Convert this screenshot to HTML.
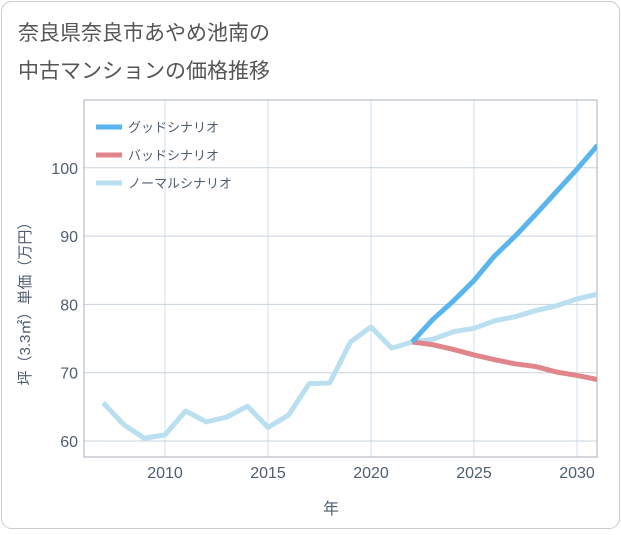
<!DOCTYPE html>
<html><head><meta charset="utf-8"><style>
body{margin:0;background:#fff;font-family:"Liberation Sans","Noto Sans CJK JP",sans-serif;}
#wrap{position:relative;width:621px;height:530px;}
</style></head><body>
<div id="wrap">
<svg id="chart" width="621" height="530" xmlns="http://www.w3.org/2000/svg">
<rect x="1.5" y="1.5" width="618" height="527" rx="10" fill="#fff" stroke="#ccc"/>
<text x="18" y="40" font-size="21" fill="#555">奈良県奈良市あやめ池南の</text>
<text x="18" y="78" font-size="21" fill="#555">中古マンションの価格推移</text>
<g id="grid"></g>
<g id="series"></g>
<g id="legend"></g>
<text x="331" y="514" font-size="16" fill="#4d5e70" text-anchor="middle">年</text>
<text transform="translate(30,300) rotate(-90)" font-size="15" fill="#4d5e70" text-anchor="middle">坪（3.3㎡）単価（万円）</text>
</svg>
</div>
<script>
const years=[2007,2008,2009,2010,2011,2012,2013,2014,2015,2016,2017,2018,2019,2020,2021,2022];
const normalHist=[65.6,62.4,60.4,60.9,64.4,62.8,63.5,65.1,62.0,63.8,68.4,68.5,74.5,76.7,73.6,74.5];
const futureYears=[2022,2023,2024,2025,2026,2027,2028,2029,2030,2031];
const goodVals=[74.5,77.8,80.5,83.5,87.1,90.0,93.2,96.5,99.8,103.3];
const badVals=[74.5,74.1,73.4,72.6,71.9,71.3,70.9,70.1,69.6,69.0];
const normalVals=[74.5,74.9,76.0,76.5,77.6,78.2,79.1,79.8,80.8,81.5];
const xTicks=[2010,2015,2020,2025,2030];
const yTicks=[60,70,80,90,100];
const L=84,R=597,T=100,B=457;
const x=v=>165+(v-2010)*20.6;
const y=v=>441-(v-60)*6.83;
const NS="http://www.w3.org/2000/svg";
function mk(tag,attrs,parent){const e=document.createElementNS(NS,tag);for(const k in attrs)e.setAttribute(k,attrs[k]);parent.appendChild(e);return e;}
const grid=document.getElementById('grid');
xTicks.forEach(t=>{
 const gl=mk('line',{x1:x(t),x2:x(t),y1:T,y2:B,stroke:'#cfe0ee','stroke-width':1},grid);
 
 
});
yTicks.forEach(t=>{
 const gl=mk('line',{x1:L,x2:R,y1:y(t),y2:y(t),stroke:'#c9d3de','stroke-width':1},grid);
 
 
});
const frame=mk('rect',{x:L,y:T,width:R-L,height:B-T,fill:'none',stroke:'#a8b0b8','stroke-width':1},grid);


xTicks.forEach(t=>{
 const tx=mk('text',{x:x(t),y:478,'font-size':16,fill:'#4d5e70','text-anchor':'middle'},grid);
 tx.textContent=t;
 
 
});
yTicks.forEach(t=>{
 const ty=mk('text',{x:78,y:y(t)+6,'font-size':16,fill:'#4d5e70','text-anchor':'end'},grid);
 ty.textContent=t;
 
 
});
const ser=document.getElementById('series');
function line(xs,vs,color,name){
 const p=mk('polyline',{points:xs.map((a,i)=>x(a)+','+y(vs[i])).join(' '),fill:'none',stroke:color,'stroke-width':5,'stroke-linejoin':'round','stroke-linecap':'butt'},ser);
 
 
}
const cp=mk('clipPath',{id:'clip'},ser);mk('rect',{x:L,y:T,width:R-L,height:B-T},cp);
ser.setAttribute('clip-path','url(#clip)');
line(years,normalHist,'#b9dff0','normal-history-line');
line(futureYears,normalVals,'#b9dff0','normal-scenario-line');
line(futureYears,badVals,'#e0868b','bad-scenario-line');
line(futureYears,goodVals,'#5ab4ee','good-scenario-line');
const leg=document.getElementById('legend');
[['グッドシナリオ','#5ab4ee','legend-good'],['バッドシナリオ','#e0868b','legend-bad'],['ノーマルシナリオ','#b9dff0','legend-normal']].forEach((d,i)=>{
 const g=mk('g',{},leg);
 
 
 mk('line',{x1:96,x2:122,y1:127+i*28,y2:127+i*28,stroke:d[1],'stroke-width':5},g);
 const t=mk('text',{x:128,y:132+i*28,'font-size':13,fill:'#4d5e70'},g);
 t.textContent=d[0];
});
</script>
</body></html>
